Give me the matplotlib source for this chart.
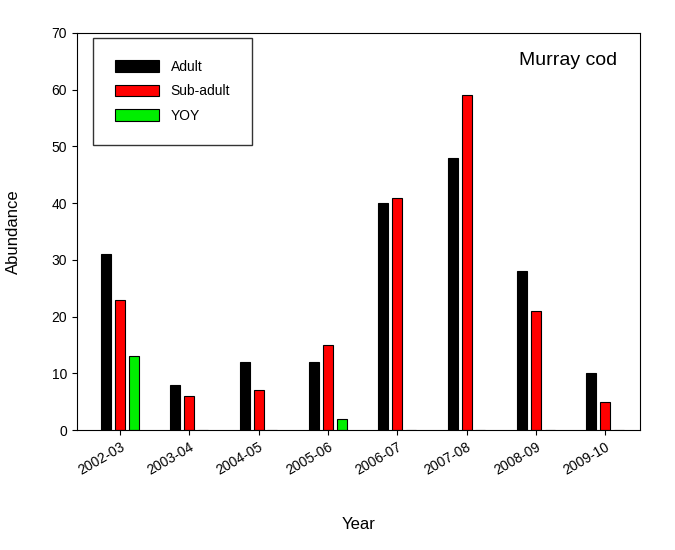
import numpy as np
import matplotlib.pyplot as plt

plt.rcParams['font.family'] = 'Liberation Sans'

years = ['2002-03', '2003-04', '2004-05', '2005-06', '2006-07', '2007-08', '2008-09', '2009-10']
adult = [31, 8, 12, 12, 40, 48, 28, 10]
sub_adult = [23, 6, 7, 15, 41, 59, 21, 5]
yoy = [13, 0, 0, 2, 0, 0, 0, 0]

fig = plt.figure(figsize=(6.75, 5.5), dpi=100)
ax = fig.add_axes([0.114, 0.218, 0.834, 0.722])

x = np.arange(len(years))
w = 0.145
off = 0.2
ax.bar(x - off, adult, w, color='black', edgecolor='black', linewidth=0.8, label='Adult')
ax.bar(x, sub_adult, w, color='red', edgecolor='black', linewidth=0.8, label='Sub-adult')
ax.bar(x + off, yoy, w, color='#00ee00', edgecolor='black', linewidth=0.8, label='YOY')

ax.set_xlim(-0.62, 7.5)
ax.set_ylim(0, 70)
ax.set_yticks(range(0, 71, 10))
ax.set_xticks(x)
ax.set_xticklabels(years, rotation=30, ha='right', rotation_mode='anchor')
ax.tick_params(labelsize=10, direction='out')
ax.set_xlabel('Year', fontsize=12, labelpad=28)
ax.set_ylabel('Abundance', fontsize=12, labelpad=22)

leg = ax.legend(loc='upper left', bbox_to_anchor=(0.028, 0.988), fancybox=False,
                edgecolor='black', fontsize=10, borderpad=1.6, labelspacing=0.75,
                handlelength=3.2, handleheight=0.9, borderaxespad=0)
leg.get_frame().set_linewidth(1)

ax.text(0.96, 0.93, 'Murray cod', transform=ax.transAxes, ha='right', va='center', fontsize=14)

fig.savefig('out.png', dpi=100)
